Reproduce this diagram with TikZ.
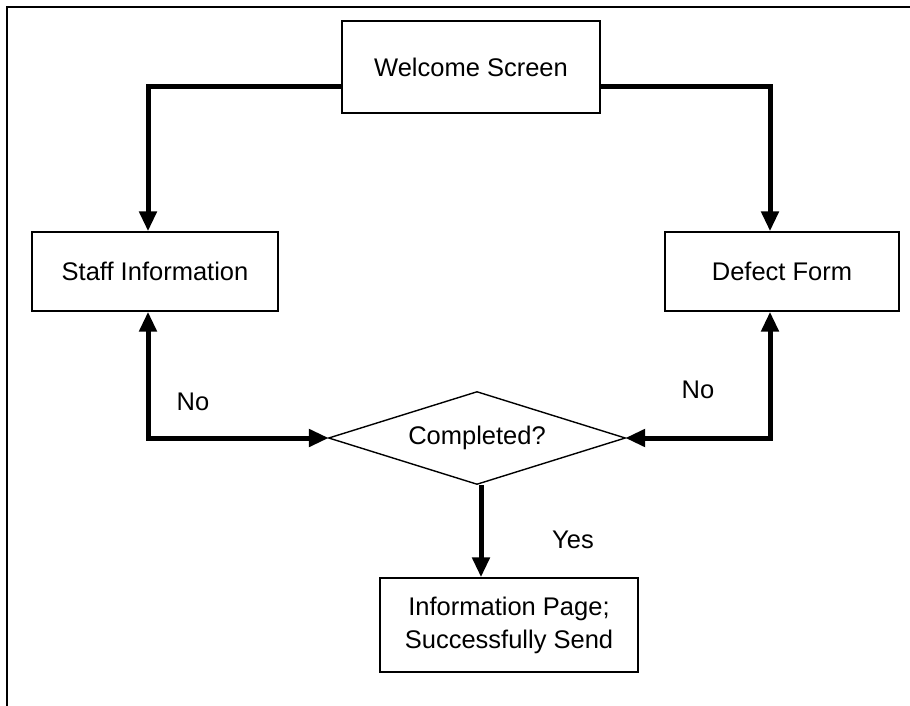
\documentclass[tikz,border=0pt]{standalone}
\usepackage{fontspec}
\setmainfont{Liberation Sans}
\usetikzlibrary{arrows.meta,shapes.geometric}
\tikzset{
  screen/.style={draw, line width=1.4pt, inner sep=0pt, font=\fontsize{25.5}{33}\selectfont, align=center},
  flow/.style={line width=5pt, -{Triangle[length=20pt,width=17pt]}},
  loop/.style={line width=5pt, {Triangle[length=20pt,width=17pt]}-{Triangle[length=20pt,width=17pt]}},
  lbl/.style={font=\fontsize{25.5}{30}\selectfont}
}
\begin{document}
\begin{tikzpicture}[x=1pt, y=-1pt]
  \useasboundingbox (0,0) rectangle (910,706);
  \draw[line width=1.3pt] (910,7) -- (7,7) -- (7,706);
  \node[screen, minimum width=258pt, minimum height=92pt] (welcome) at (471,67) {Welcome Screen};
  \node[screen, minimum width=246pt, minimum height=79pt] (staff) at (155,271.5) {Staff Information};
  \node[screen, minimum width=234pt, minimum height=79pt] (defect) at (782,271.5) {Defect Form};
  \node[screen, shape=diamond, aspect=3.19, minimum width=297pt, minimum height=93pt] (done) at (477,438) {Completed?};
  \node[screen, minimum width=258pt, minimum height=94pt] (info) at (509,625) {Information Page;\\Successfully Send};
  \draw[flow] ([yshift=-20pt]welcome.west) -| ([xshift=-7pt]staff.north);
  \draw[flow] ([yshift=-20pt]welcome.east) -| ([xshift=-12pt]defect.north);
  \draw[loop] ([xshift=-7pt]staff.south) |- ([xshift=1pt]done.west);
  \draw[loop] ([xshift=-12pt]defect.south) |- ([xshift=-1pt]done.east);
  \draw[flow] ([xshift=4pt]done.south) -- ([xshift=4pt]done.south |- info.north);
  \node[lbl] (nostaff) at (193,402) {No};
  \node[lbl] (nodefect) at (698,390) {No};
  \node[lbl] (yes) at (573,540) {Yes};
\end{tikzpicture}
\end{document}
